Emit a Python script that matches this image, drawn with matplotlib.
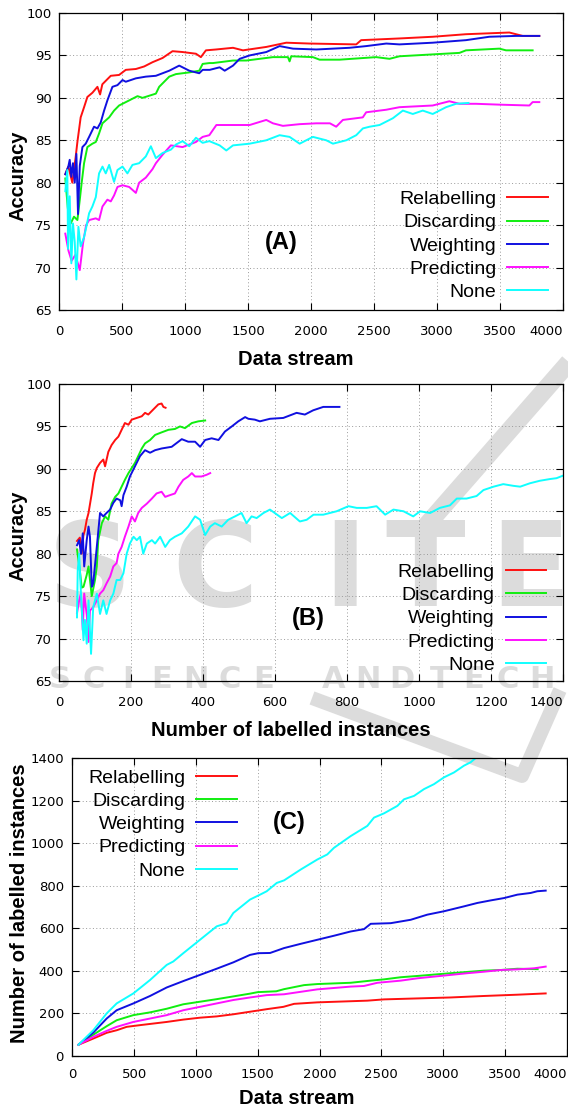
import matplotlib
matplotlib.use('Agg')
import matplotlib.pyplot as plt
from matplotlib.lines import Line2D

W, H = 568, 1108

methods = ['Relabelling', 'Discarding', 'Weighting', 'Predicting', 'None']
colors = ['#ff1010', '#10ee10', '#1010e0', '#ff10ff', '#10ffff']

# (A) accuracy against position in the data stream
relab_a = [(50, 81.0), (74, 81.9), (106, 80.0), (132, 83.0), (146, 84.8), (172, 87.7), (199, 88.9),
           (225, 90.1), (265, 90.6), (305, 91.3), (326, 90.4), (344, 91.6), (384, 92.2), (411, 92.6),
           (477, 92.7), (530, 93.3), (610, 93.4), (676, 93.7), (742, 94.2), (822, 94.7), (901, 95.5),
           (981, 95.4), (1087, 95.2), (1126, 94.8), (1166, 95.6), (1246, 95.7), (1381, 95.9),
           (1460, 95.6), (1645, 96.0), (1804, 96.5), (1989, 96.4), (2359, 96.3), (2398, 96.8),
           (2702, 97.0), (2966, 97.2), (3230, 97.5), (3574, 97.7), (3627, 97.5), (3680, 97.3), (3812, 97.3)]
disc_a = [(50, 80.5), (70, 77.0), (93, 75.2), (119, 76.0), (146, 75.6), (165, 78.0), (180, 80.0),
          (199, 82.3), (225, 84.2), (265, 84.6), (292, 84.8), (318, 85.8), (345, 87.0), (398, 87.7),
          (437, 88.5), (477, 89.1), (557, 89.7), (623, 90.2), (663, 90.0), (769, 90.5), (795, 91.3),
          (875, 92.5), (928, 92.8), (1034, 93.0), (1113, 93.2), (1140, 94.0), (1193, 94.1), (1222, 94.1),
          (1381, 94.4), (1487, 94.4), (1698, 94.8), (1817, 94.8), (1830, 94.3), (1843, 94.9), (2015, 94.8),
          (2068, 94.5), (2227, 94.5), (2517, 94.8), (2623, 94.6), (2702, 94.9), (3178, 95.3), (3230, 95.6),
          (3495, 95.8), (3548, 95.6), (3759, 95.6)]
weight_a = [(50, 81.0), (74, 81.9), (85, 82.7), (98, 80.7), (111, 82.3), (125, 80.0), (138, 83.4),
            (151, 76.3), (165, 82.0), (186, 84.2), (212, 84.6), (239, 85.4), (278, 86.6), (305, 86.4),
            (331, 87.1), (358, 88.5), (384, 89.7), (424, 91.3), (464, 91.5), (504, 92.1), (530, 91.9),
            (610, 92.3), (689, 92.5), (769, 92.6), (875, 93.2), (954, 93.8), (1034, 93.2), (1113, 92.9),
            (1140, 93.3), (1196, 93.3), (1275, 93.6), (1315, 93.2), (1381, 93.8), (1434, 94.6), (1513, 95.0),
            (1645, 95.4), (1751, 96.1), (1857, 95.8), (2042, 95.7), (2306, 95.9), (2438, 96.1), (2597, 96.4),
            (2702, 96.3), (2966, 96.5), (3230, 96.8), (3415, 97.2), (3627, 97.3), (3812, 97.3)]
pred_a = [(50, 74.0), (75, 72.0), (100, 70.8), (130, 71.5), (165, 69.7), (190, 72.8), (215, 75.0),
          (239, 75.6), (292, 75.8), (318, 75.6), (345, 77.2), (384, 78.0), (411, 77.8), (437, 78.5),
          (464, 79.5), (504, 79.7), (557, 79.5), (610, 78.8), (636, 80.0), (689, 80.6), (742, 81.6),
          (769, 82.3), (822, 83.3), (888, 84.4), (981, 84.2), (1087, 84.8), (1140, 85.4), (1193, 85.6),
          (1249, 86.8), (1381, 86.8), (1513, 86.8), (1645, 87.4), (1698, 87.0), (1777, 86.7), (1910, 86.9),
          (2042, 87.0), (2150, 87.0), (2200, 86.6), (2253, 87.4), (2411, 87.7), (2438, 88.3), (2597, 88.6),
          (2702, 88.9), (2966, 89.1), (3098, 89.6), (3178, 89.3), (3310, 89.3), (3495, 89.2), (3733, 89.1),
          (3759, 89.5), (3812, 89.5)]
none_a = [(50, 79.0), (66, 81.5), (72, 72.2), (85, 78.4), (98, 70.5), (111, 75.2), (125, 73.0),
          (138, 68.6), (154, 74.8), (172, 72.5), (199, 73.6), (217, 74.8), (239, 76.4), (265, 77.2),
          (292, 78.3), (318, 81.1), (345, 81.9), (371, 81.1), (398, 82.1), (437, 80.1), (464, 81.5),
          (504, 81.9), (543, 81.1), (583, 82.1), (636, 82.3), (689, 83.1), (729, 84.3), (769, 82.9),
          (822, 83.5), (888, 83.9), (928, 84.5), (981, 84.9), (1034, 84.3), (1087, 85.3), (1140, 84.7),
          (1193, 84.9), (1275, 84.4), (1328, 83.8), (1381, 84.4), (1513, 84.6), (1645, 85.0), (1751, 85.6),
          (1830, 85.4), (1910, 84.6), (2015, 85.4), (2121, 85.0), (2174, 84.6), (2280, 85.0), (2359, 85.6),
          (2412, 86.4), (2465, 86.6), (2544, 86.8), (2650, 87.6), (2729, 88.5), (2808, 88.1), (2887, 88.5),
          (2966, 88.1), (3072, 88.9), (3151, 89.3), (3250, 89.4)]

# (B) accuracy against number of labelled instances
relab_b = [(50, 81.5), (58, 81.9), (63, 80.0), (68, 82.2), (72, 82.8), (77, 84.0), (82, 84.8), (91, 87.1),
           (95, 88.3), (100, 89.5), (105, 90.1), (114, 90.7), (123, 91.1), (128, 90.3), (137, 92.0),
           (146, 92.8), (156, 93.4), (165, 93.8), (174, 94.6), (183, 95.4), (193, 95.2), (202, 95.8),
           (216, 96.0), (230, 96.2), (239, 96.6), (248, 96.4), (262, 97.0), (276, 97.6), (285, 97.7),
           (290, 97.3), (296, 97.2)]
disc_b = [(50, 80.5), (58, 78.0), (63, 76.0), (68, 76.1), (77, 77.5), (82, 78.5), (91, 75.0), (100, 76.9),
          (105, 78.5), (109, 81.6), (119, 83.6), (128, 84.4), (137, 84.0), (146, 85.9), (156, 86.7),
          (165, 87.1), (174, 87.9), (183, 88.7), (193, 89.5), (202, 90.1), (211, 90.7), (220, 91.5),
          (230, 92.4), (239, 93.0), (253, 93.4), (267, 94.0), (285, 94.3), (304, 94.6), (322, 94.7),
          (336, 95.0), (350, 94.8), (369, 95.4), (387, 95.6), (406, 95.7)]
weight_b = [(50, 81.0), (56, 81.6), (61, 80.0), (66, 82.4), (70, 78.5), (77, 81.6), (82, 83.2), (86, 82.0),
            (91, 76.1), (95, 76.5), (105, 80.8), (114, 84.8), (123, 84.4), (132, 84.8), (142, 85.2),
            (151, 86.0), (160, 86.5), (170, 86.3), (174, 85.6), (179, 86.9), (188, 87.9), (197, 89.1),
            (211, 90.3), (225, 91.5), (239, 92.2), (253, 91.9), (267, 92.2), (285, 92.4), (313, 92.6),
            (341, 93.5), (359, 93.2), (378, 93.2), (392, 92.6), (406, 93.4), (424, 93.6), (443, 93.4),
            (461, 94.4), (480, 95.0), (498, 95.6), (517, 96.1), (526, 95.9), (544, 95.8), (558, 95.6),
            (586, 95.9), (623, 96.0), (660, 96.6), (683, 96.4), (706, 96.9), (734, 97.3), (762, 97.3),
            (779, 97.3)]
pred_b = [(50, 73.0), (56, 74.5), (61, 75.3), (66, 71.0), (70, 75.3), (77, 72.8), (82, 69.6), (86, 73.3),
          (95, 73.7), (105, 74.5), (114, 75.3), (123, 75.7), (132, 76.5), (142, 77.3), (151, 78.5),
          (160, 78.9), (165, 80.0), (174, 80.8), (183, 82.0), (193, 83.2), (202, 84.4), (211, 83.8),
          (220, 84.8), (230, 85.4), (244, 85.9), (258, 86.5), (271, 87.1), (285, 87.3), (295, 86.7),
          (308, 86.9), (322, 87.1), (332, 87.9), (345, 88.7), (359, 89.1), (369, 89.5), (378, 89.1),
          (396, 89.1), (410, 89.3), (420, 89.5)]
none_b = [(50, 72.5), (52, 78.0), (56, 80.0), (61, 75.3), (68, 69.8), (72, 72.2), (77, 69.4), (82, 74.5),
          (89, 68.2), (95, 73.7), (105, 75.3), (114, 72.9), (123, 74.5), (132, 72.9), (142, 74.5),
          (151, 75.3), (160, 76.9), (170, 76.9), (179, 77.7), (188, 80.0), (197, 81.2), (207, 82.0),
          (216, 81.6), (225, 82.0), (234, 80.0), (244, 81.2), (258, 81.6), (267, 81.2), (281, 82.0),
          (295, 80.8), (308, 81.6), (322, 82.0), (341, 82.4), (359, 83.2), (378, 84.4), (392, 84.0),
          (406, 82.2), (420, 83.2), (433, 83.6), (452, 83.2), (470, 84.0), (489, 84.4), (507, 84.8),
          (521, 83.6), (535, 84.4), (549, 84.2), (568, 84.8), (586, 85.2), (619, 84.2), (642, 84.8),
          (669, 83.8), (688, 84.0), (707, 84.6), (734, 84.6), (771, 85.0), (804, 85.6), (827, 85.4),
          (855, 85.4), (882, 85.6), (906, 84.6), (929, 85.2), (957, 85.0), (984, 84.4), (1003, 85.0),
          (1031, 84.8), (1058, 85.4), (1086, 85.7), (1105, 86.5), (1132, 86.5), (1160, 86.8), (1179, 87.5),
          (1207, 87.9), (1234, 88.2), (1262, 88.0), (1281, 87.9), (1308, 88.3), (1336, 88.6), (1364, 88.8),
          (1382, 88.9), (1400, 89.2)]

# (C) labelled instances against position in the data stream
relab_c = [(50, 53), (170, 82), (278, 109), (359, 121), (440, 137), (548, 145), (764, 160), (898, 171),
           (1033, 180), (1168, 186), (1303, 196), (1438, 208), (1573, 220), (1708, 231), (1794, 245),
           (1982, 252), (2387, 260), (2522, 266), (3061, 275), (3331, 282), (3601, 288), (3830, 294)]
disc_c = [(50, 53), (170, 100), (278, 140), (359, 168), (494, 192), (629, 205), (764, 222), (898, 243),
          (1033, 255), (1168, 267), (1303, 280), (1438, 293), (1500, 300), (1650, 304), (1713, 314),
          (1875, 333), (1982, 338), (2252, 344), (2414, 354), (2522, 360), (2657, 370), (2792, 376),
          (3061, 389), (3331, 401), (3466, 404), (3601, 410), (3765, 408)]
weight_c = [(50, 53), (170, 110), (278, 176), (359, 215), (494, 247), (629, 282), (764, 322), (898, 352),
            (1033, 381), (1168, 410), (1303, 440), (1438, 475), (1505, 483), (1600, 484), (1713, 507),
            (1848, 527), (1982, 546), (2117, 565), (2252, 585), (2360, 596), (2414, 621), (2576, 624),
            (2738, 640), (2872, 664), (3007, 680), (3169, 703), (3277, 719), (3385, 731), (3493, 742),
            (3601, 758), (3709, 766), (3762, 774), (3830, 777)]
pred_c = [(50, 53), (170, 90), (278, 118), (359, 137), (494, 160), (629, 176), (764, 192), (898, 215),
          (1033, 231), (1168, 247), (1303, 263), (1438, 275), (1573, 286), (1713, 290), (1982, 313),
          (2252, 326), (2360, 329), (2468, 344), (2657, 354), (2792, 365), (2926, 373), (3061, 381),
          (3196, 389), (3331, 396), (3466, 404), (3601, 407), (3736, 412), (3830, 420)]
none_c = [(50, 53), (170, 121), (278, 200), (359, 247), (494, 294), (629, 357), (764, 428), (817, 444),
          (898, 483), (1033, 546), (1168, 609), (1249, 624), (1303, 672), (1438, 735), (1519, 758),
          (1573, 774), (1654, 813), (1713, 825), (1848, 876), (1982, 923), (2063, 947), (2117, 978),
          (2252, 1033), (2387, 1081), (2441, 1120), (2522, 1140), (2630, 1175), (2684, 1206), (2765, 1222),
          (2846, 1254), (2926, 1277), (3007, 1309), (3088, 1332), (3169, 1364), (3223, 1380), (3264, 1400),
          (3290, 1410)]


def px_box(left, top, right, bottom):
    # axes rectangle given in pixels of the 568x1108 canvas
    return [left / W, 1 - bottom / H, (right - left) / W, (bottom - top) / H]


def draw_panel(ax, series, xmax, xstep, ylim, ystep, xlabel, ylabel, tag, tag_pos,
               leg_loc, leg_anchor, xlabel_pos, ylabel_pos, xpad):
    handles = []
    for pts, name, c in zip(series, methods, colors):
        xs = [p[0] for p in pts]
        ys = [p[1] for p in pts]
        line, = ax.plot(xs, ys, color=c, linewidth=1.4, label=name)
        handles.append(line)

    ax.set_xlim(0, xmax)
    ax.set_ylim(*ylim)
    ax.set_xticks(range(0, xmax + 1, xstep))
    ax.set_yticks(range(ylim[0], ylim[1] + 1, ystep))
    ax.set_facecolor('none')
    ax.grid(True, color='#9a9a9a', linestyle=(0, (1, 2.5)), linewidth=0.7)
    ax.tick_params(direction='in', top=True, right=True, length=5, width=0.8,
                   labelsize=9.5, colors='black')
    ax.tick_params(axis='x', pad=xpad)
    ax.tick_params(axis='y', pad=5)
    for s in ax.spines.values():
        s.set_linewidth(0.9)
    # gnuplot pulls the last x label inside the canvas
    ax.get_xticklabels()[-1].set_horizontalalignment('right')

    ax.set_xlabel(xlabel, fontsize=14.5, fontweight='bold', family='Liberation Sans')
    ax.set_ylabel(ylabel, fontsize=14.5, fontweight='bold', family='Liberation Sans')
    ax.xaxis.label.set_va('center')
    ax.yaxis.label.set_va('center')
    ax.xaxis.set_label_coords(*xlabel_pos)
    ax.yaxis.set_label_coords(*ylabel_pos)

    ax.text(tag_pos[0], tag_pos[1], tag, transform=ax.transAxes, ha='center', va='center',
            fontsize=17, fontweight='bold', family='Liberation Sans')

    ax.legend(handles=handles, loc=leg_loc, bbox_to_anchor=leg_anchor, frameon=False,
              markerfirst=False, prop={'family': 'Liberation Sans', 'size': 14},
              handlelength=2.1, handletextpad=0.55, labelspacing=0.29,
              borderpad=0, borderaxespad=0)


fig = plt.figure(figsize=(W / 100, H / 100), dpi=100)
fig.patch.set_facecolor('white')

# faint publisher watermark behind the plots
wm = '#dcdcdc'
for ch, cx in zip('SCITE', [90, 215, 345, 425, 530]):
    fig.text(cx / W, 1 - 573 / H, ch, ha='center', va='center', fontsize=84,
             fontweight='bold', color=wm, zorder=-2)
word_starts = [('SCIENCE', 60), ('AND', 334), ('TECH', 440)]
for word, x0 in word_starts:
    for i, ch in enumerate(word):
        fig.text((x0 + i * 34) / W, 1 - 679 / H, ch, ha='center', va='center', fontsize=22,
                 fontweight='bold', color=wm, zorder=-2)
fig.add_artist(Line2D([578 / W, 418 / W], [1 - 352 / H, 1 - 535 / H], color=wm,
                      linewidth=13, solid_capstyle='butt', zorder=-2))
fig.add_artist(Line2D([312 / W, 522 / W, 560 / W], [1 - 698 / H, 1 - 776 / H, 1 - 690 / H],
                      color=wm, linewidth=10, solid_capstyle='butt', zorder=-2))

ax_a = fig.add_axes(px_box(59, 13, 563, 310))
draw_panel(ax_a, [relab_a, disc_a, weight_a, pred_a, none_a], 4000, 500, (65, 100), 5,
           'Data stream', 'Accuracy', '(A)', (0.44, 0.226),
           'lower right', (0.970, 0.03), (0.47, -0.165), (-0.082, 0.451), 11)

ax_b = fig.add_axes(px_box(59, 384, 563, 681))
draw_panel(ax_b, [relab_b, disc_b, weight_b, pred_b, none_b], 1400, 200, (65, 100), 5,
           'Number of labelled instances', 'Accuracy', '(B)', (0.494, 0.212),
           'lower right', (0.967, 0.024), (0.46, -0.168), (-0.082, 0.49), 11)

ax_c = fig.add_axes(px_box(72.3, 758, 566.7, 1056))
draw_panel(ax_c, [relab_c, disc_c, weight_c, pred_c, none_c], 4000, 500, (0, 1400), 200,
           'Data stream', 'Number of labelled instances', '(C)', (0.438, 0.785),
           'upper right', (0.333, 0.963), (0.453, -0.141), (-0.106, 0.513), 9)
ax_c.tick_params(axis='y', pad=6)

fig.savefig('out.png', dpi=100)
